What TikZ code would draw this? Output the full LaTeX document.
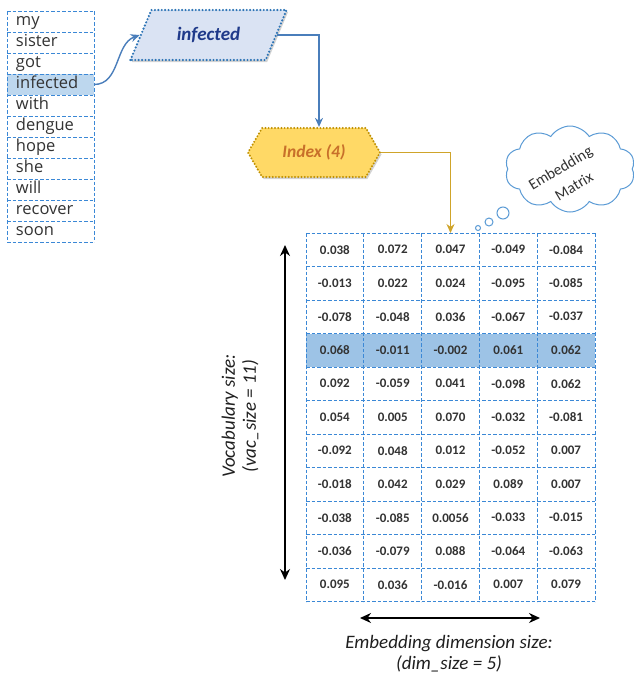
\documentclass[tikz,border=0pt]{standalone}
\usepackage{fontspec}
\setmainfont{Carlito}
\newfontfamily\wordfont{Open Sans}
\usepackage{xcolor}
\usepackage{tikz}
\definecolor{cellblue}{HTML}{3B88D6}
\definecolor{rowblue}{HTML}{9DC3E6}
\definecolor{wordblue}{HTML}{BDD7EE}
\definecolor{parafill}{HTML}{DAE3F3}
\definecolor{paraline}{HTML}{2E75B6}
\definecolor{navy}{HTML}{1F3A8A}
\definecolor{linkblue}{HTML}{4A7EBB}
\definecolor{gold}{HTML}{FFD966}
\definecolor{goldline}{HTML}{BF9000}
\definecolor{goldlink}{HTML}{CFA42A}
\definecolor{rust}{HTML}{C8702A}
\definecolor{cloudline}{HTML}{5B9BD5}
\definecolor{ink}{HTML}{333333}
\usetikzlibrary{shapes.geometric, shapes.symbols, arrows.meta, positioning, shadows}

\begin{document}
\begin{tikzpicture}[x=1pt, y=-1pt,
    grid/.style={draw=cellblue, dash pattern=on 3.5pt off 2pt, line width=1pt},
    word/.style={minimum height=21pt, text width=69pt, inner xsep=9pt, inner ysep=0pt, outer sep=0pt, align=left, text height=12pt, text depth=3.5pt, font=\wordfont\fontsize{16.5}{18}\selectfont, text=ink},
    cell/.style={minimum width=57.8pt, minimum height=33.5pt, inner sep=0pt, outer sep=0pt, font=\bfseries\fontsize{13}{15}\selectfont, text=ink},
    para/.style={trapezium, trapezium left angle=60, trapezium right angle=120, trapezium stretches=true, minimum width=157pt, minimum height=50pt, fill=parafill, draw=paraline, line width=2.4pt, dash pattern=on 0pt off 3.4pt, line cap=round, font=\bfseries\itshape\fontsize{19}{22}\selectfont, text=navy, drop shadow={opacity=0.35, shadow xshift=1.5pt, shadow yshift=-2pt}},
    hexa/.style={signal, signal to=west and east, signal pointer angle=120, minimum width=132pt, minimum height=49pt, fill=gold, draw=goldline, line width=2.2pt, dash pattern=on 0pt off 3.2pt, line cap=round, font=\bfseries\itshape\fontsize{17.5}{20}\selectfont, text=rust, drop shadow={opacity=0.35, shadow xshift=1.5pt, shadow yshift=-2pt}},
    bubble/.style={circle, draw=cloudline, line width=1pt, fill=white, inner sep=0pt},
    thought/.style={rotate=31, font=\fontsize{15.5}{17}\selectfont, text=ink, inner sep=1pt},
    link/.style={-{Stealth[length=9pt, width=8pt]}, line width=1.4pt},
    sizearrow/.style={{Stealth[length=11pt, width=10pt]}-{Stealth[length=11pt, width=10pt]}, line width=1.5pt, black},
    sizelabel/.style={font=\itshape\fontsize{19}{21}\selectfont, text=black!88, align=center}
]
    \useasboundingbox (0,0) rectangle (634,675);

    % Sentence
    \foreach \w [count=\i, evaluate=\i as \prev using int(\i-1)] in {my, sister, got, infected, with, dengue, hope, she, will, recover, soon} {
        \ifnum\i=4 \def\wordfill{wordblue}\else\def\wordfill{white}\fi
        \ifnum\i=1
            \node[word, fill=\wordfill] (w1) at (50.5,21.5) {\w};
        \else
            \node[word, fill=\wordfill, below=0pt of w\prev] (w\i) {\w};
        \fi
    }
    \foreach \i in {1,...,11}
        \draw[grid] (w\i.north west) -- (w\i.north east);
    \draw[grid] (w11.south west) -- (w11.south east);
    \draw[grid] (w1.north west) -- (w11.south west);
    \draw[grid] (w1.north east) -- (w11.south east);

    \node[para] (inf) at (208.5,35) {infected};
    \node[hexa] (idx) at (314,152.5) {Index (4)};

    % Embedding matrix
    \foreach \row [count=\r] in {
        {0.038, 0.072, 0.047, -0.049, -0.084},
        {-0.013, 0.022, 0.024, -0.095, -0.085},
        {-0.078, -0.048, 0.036, -0.067, -0.037},
        {0.068, -0.011, -0.002, 0.061, 0.062},
        {0.092, -0.059, 0.041, -0.098, 0.062},
        {0.054, 0.005, 0.070, -0.032, -0.081},
        {-0.092, 0.048, 0.012, -0.052, 0.007},
        {-0.018, 0.042, 0.029, 0.089, 0.007},
        {-0.038, -0.085, 0.0056, -0.033, -0.015},
        {-0.036, -0.079, 0.088, -0.064, -0.063},
        {0.095, 0.036, -0.016, 0.007, 0.079}} {
        \ifnum\r=4 \def\cellfill{rowblue}\else\def\cellfill{white}\fi
        \foreach \v [count=\c] in \row {
            \node[cell, fill=\cellfill] (m-\r-\c) at ({306+57.8*(\c-0.5)}, {233+33.5*(\r-0.5)}) {\v};
        }
    }
    \foreach \r in {1,...,11}
        \draw[grid] (m-\r-1.north west) -- (m-\r-5.north east);
    \draw[grid] (m-11-1.south west) -- (m-11-5.south east);
    \foreach \c in {1,...,5}
        \draw[grid] (m-1-\c.north west) -- (m-11-\c.south west);
    \draw[grid] (m-1-5.north east) -- (m-11-5.south east);

    % Thought cloud
    \node[cloud, cloud puffs=10, cloud puff arc=115, aspect=1.55, draw=cloudline, line width=1pt, fill=white, minimum width=130pt, minimum height=86pt] (cld) at (570,169) {};
    \node[thought] (cldtop) at (561,169) {Embedding};
    \node[thought] (cldbot) at (574,186) {Matrix};
    \node[bubble, minimum size=5pt] (b1) at (478,228) {};
    \node[bubble, minimum size=8pt] (b2) at (489,222) {};
    \node[bubble, minimum size=12pt] (b3) at (503,213) {};

    \draw[link, linkblue] (w4.east) to[out=0, in=200] (inf.left side);
    \draw[link, linkblue] (inf.right side) -| ([xshift=5pt]idx.north);
    \draw[link, goldlink] (idx.east) -| (m-1-3.north);

    % Sizes
    \coordinate (vtop) at (285,245);
    \coordinate (vbot) at (285,580);
    \coordinate (hleft) at (360,618);
    \coordinate (hright) at (540,618);
    \draw[sizearrow] (vtop) -- (vbot);
    \draw[sizearrow] (hleft) -- (hright);
    \node[sizelabel, rotate=90] (vlab) at (240,416) {Vocabulary size:\\(vac\_size = 11)};
    \node[sizelabel] (hlab) at (449,654) {Embedding dimension size:\\(dim\_size = 5)};
\end{tikzpicture}
\end{document}
